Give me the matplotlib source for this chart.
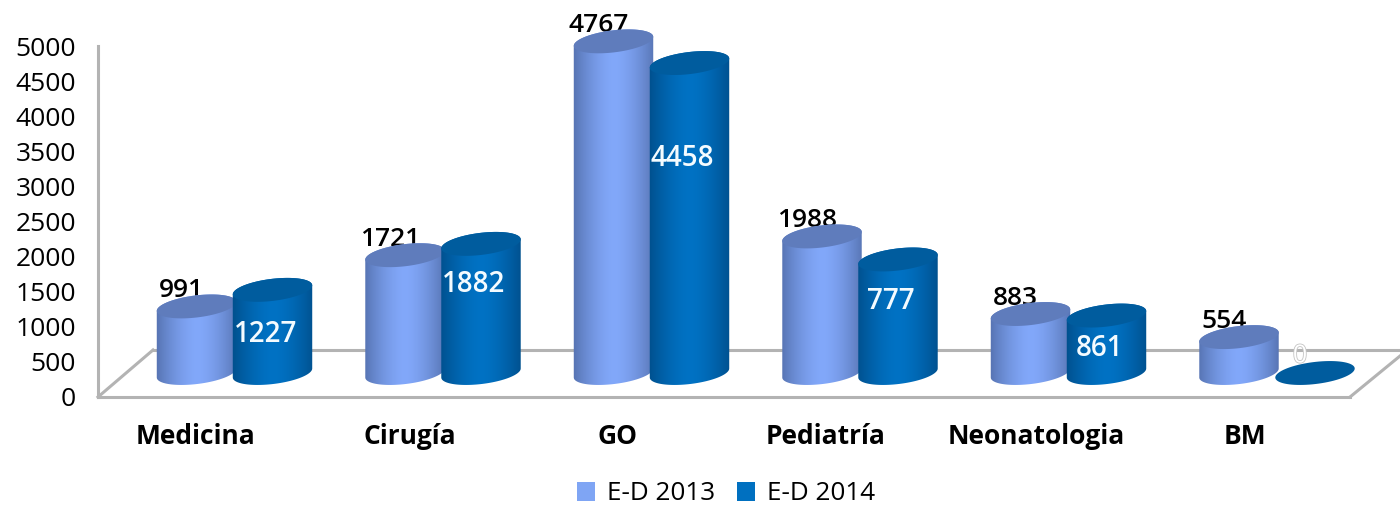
import numpy as np
import matplotlib
matplotlib.use('Agg')
import matplotlib.pyplot as plt
import matplotlib.patheffects as pe
from matplotlib.colors import to_rgb
from matplotlib.patches import Patch, Polygon
from matplotlib.transforms import Affine2D, IdentityTransform

plt.rcParams['font.family'] = ['Open Sans', 'DejaVu Sans']

# --- data ---
categories = ['Medicina', 'Cirugía', 'GO', 'Pediatría', 'Neonatologia', 'BM']
ed_2013 = [991, 1721, 4767, 1988, 883, 554]
ed_2014 = [1227, 1882, 4458, 1660, 861, 0]   # Pediatria bar height, its label says 777
labels_2013 = ['991', '1721', '4767', '1988', '883', '554']
labels_2014 = ['1227', '1882', '4458', '777', '861', '0']
yticks = [0, 500, 1000, 1500, 2000, 2500, 3000, 3500, 4000, 4500, 5000]

# --- layout (pixels) ---
W, H = 1400, 508
LEFT, RIGHT, TOP, BOTTOM = 98, 1350, 46, 397
GROUP0, PITCH = 234.5, 208.5
BAR_OFF = 38          # bar centre from group centre
RX, RY = 40, 11       # cylinder cap radii
TILT = np.radians(7)
FLOOR = 24            # cylinder base above the front axis line
FLOOR_TOP = 21        # the caps sit a little lower than the base offset
BACK_DY = 47          # depth of the floor in pixels
BACK_DX = 55

LIGHT = ('#5572b0', '#82a8fa', '#5f7cbc')   # edge, centre, cap
DARK = ('#004f8c', '#0072c4', '#005c9e')
GRID = '#b3b3b3'

fig = plt.figure(figsize=(W / 100, H / 100), dpi=100)
ax = fig.add_axes([LEFT / W, 1 - BOTTOM / H, (RIGHT - LEFT) / W, (BOTTOM - TOP) / H])
xlim = ((LEFT - GROUP0) / PITCH, (RIGHT - GROUP0) / PITCH)
ax.set_xlim(*xlim)
ax.set_ylim(0, 5000)


def cap_points(cx, cy, start=0.0, span=2 * np.pi):
    t = np.linspace(start, start + span, 80)
    x = RX * np.cos(t) * np.cos(TILT) - RY * np.sin(t) * np.sin(TILT)
    y = RX * np.cos(t) * np.sin(TILT) + RY * np.sin(t) * np.cos(TILT)
    return np.column_stack([cx + x, cy + y])


def draw_cylinder(x, value, style, z):
    edge, centre, cap = style
    cx, y0 = ax.transData.transform((x, 0))
    _, ytop = ax.transData.transform((x, value))
    y0 += FLOOR
    ytop += FLOOR_TOP if value > 0 else FLOOR
    if value > 0:
        t0 = np.arctan2(-RY * np.sin(TILT), RX * np.cos(TILT))
        body = np.vstack([cap_points(cx, ytop, t0, np.pi),
                          cap_points(cx, y0, t0 + np.pi, np.pi)])
        u = np.abs(np.linspace(-1, 1, 64))[None, :, None]
        img = (1 - u ** 1.6) * np.array(to_rgb(centre)) + u ** 1.6 * np.array(to_rgb(edge))
        inv = ax.transData.inverted()
        (xa, ya), (xb, yb) = inv.transform([(cx - RX - 2, y0 - RY - 8), (cx + RX + 2, ytop + RY + 8)])
        im = ax.imshow(img, extent=(xa, xb, ya, yb), aspect='auto', zorder=z, interpolation='bilinear')
        im.set_clip_box(fig.bbox)
        im.set_clip_path(Polygon(body, transform=IdentityTransform()))
    ax.add_patch(Polygon(cap_points(cx, ytop), closed=True, transform=IdentityTransform(),
                         facecolor=cap, edgecolor='none', zorder=z + 0.1, clip_on=False))
    return cx, ytop


# floor and back wall
x0, y0 = ax.transData.transform((xlim[0], 0))
x1, y1 = ax.transData.transform((xlim[1], 0))
for xs, ys in [([x0, x0 + BACK_DX], [y0, y0 + BACK_DY]),
               ([x0 + BACK_DX, W], [y0 + BACK_DY, y0 + BACK_DY]),
               ([x1, W], [y1, y1 + 41])]:
    ax.plot(xs, ys, color=GRID, lw=2.2, transform=IdentityTransform(), clip_on=False, zorder=1)

for i in range(len(categories)):
    off = BAR_OFF / PITCH
    draw_cylinder(i - off, ed_2013[i], LIGHT, 3 + i * 2)
    draw_cylinder(i + off, ed_2014[i], DARK, 4 + i * 2)

ax.set_xlim(*xlim)
ax.set_ylim(0, 5000)

# data labels
for i in range(len(categories)):
    ax.annotate(labels_2013[i], (i - BAR_OFF / PITCH, ed_2013[i]), xytext=(-15, 37), textcoords='offset pixels',
                ha='center', va='center', fontsize=19, fontweight='semibold', color='black', zorder=2)

white_y = [884, 1596, 3391, 1354, 684, 584]   # where the white labels sit on the value scale
for i in range(len(categories)):
    if i == 5:
        ax.text(i + BAR_OFF / PITCH - 15 / PITCH, white_y[i], labels_2014[i], ha='center', va='center',
                fontsize=18, color='white', zorder=30,
                path_effects=[pe.withStroke(linewidth=1.2, foreground='#c4c4c4')])
    else:
        ax.text(i + BAR_OFF / PITCH - 7 / PITCH, white_y[i], labels_2014[i], ha='center', va='center',
                fontsize=20, fontweight='semibold', color='#f4fbff', zorder=30)

# axes
for side in ['top', 'right']:
    ax.spines[side].set_visible(False)
for side in ['left', 'bottom']:
    ax.spines[side].set_color(GRID)
    ax.spines[side].set_linewidth(2.2)
ax.set_yticks(yticks)
ax.set_yticklabels([str(v) for v in yticks], fontsize=19)
ax.tick_params(axis='y', length=0, pad=16)
ax.set_xticks(range(len(categories)))
ax.set_xticklabels(categories, fontsize=19, fontweight='bold')
ax.tick_params(axis='x', length=0, pad=19)
for lab, dx in zip(ax.get_xticklabels(), [-39, -33, -34, -34, -32, -32]):
    lab.set_transform(lab.get_transform() + Affine2D().translate(dx, 0))

handles = [Patch(facecolor='#7fa5f4', label='E-D 2013'), Patch(facecolor='#0070c0', label='E-D 2014')]
leg = fig.legend(handles=handles, loc='center', bbox_to_anchor=(726 / W, 1 - 494 / H), ncol=2, frameon=False,
                 fontsize=18.8, handlelength=0.7, handleheight=0.7, handletextpad=0.45, columnspacing=0.85,
                 borderpad=0, borderaxespad=0)

fig.savefig('out.png', dpi=100, facecolor='white')
